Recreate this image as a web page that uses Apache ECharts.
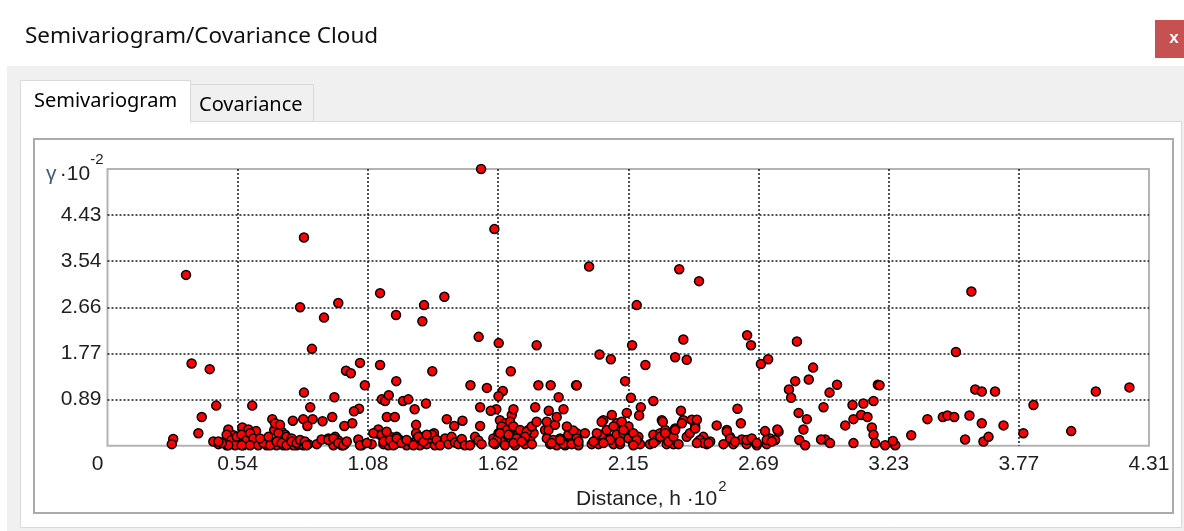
<!DOCTYPE html>
<html>
<head>
<meta charset="utf-8">
<script src="https://cdn.jsdelivr.net/npm/echarts@6/dist/echarts.min.js"></script>
<style>
  html, body { margin: 0; padding: 0; background: #ffffff; }
  #chart { width: 1184px; height: 531px; }
</style>
</head>
<body>
<div id="chart"></div>
<script>
// Axis extents and tick labels (distance in units of 10^2, gamma in units of 10^-2)
const xMax = 4.31;
const yMax = 5.314;
const xTickLabels = ['0', '0.54', '1.08', '1.62', '2.15', '2.69', '3.23', '3.77', '4.31'];
const yTickLabels = ['', '0.89', '1.77', '2.66', '3.54', '4.43', ''];

// Semivariogram cloud: [distance h, gamma] pairs, scattered upper part
const cloudUpper = [
  [0.325,3.28],[0.348,1.58],[0.423,1.47],[0.45,0.77],[0.39,0.55],[0.376,0.24],[0.272,0.13],[0.266,0.03],
  [0.599,0.77],[0.682,0.51],[0.693,0.43],[0.813,4.00],[0.797,2.66],[0.896,2.46],[0.955,2.74],[1.128,2.93],
  [1.194,2.51],[1.310,2.70],[1.303,2.39],[1.394,2.86],[1.546,5.314],[1.601,4.16],[1.993,3.44],[2.190,2.70],
  [2.366,3.39],[2.448,3.16],[3.575,2.96],[0.846,1.86],[1.536,2.09],[1.619,1.97],[1.776,1.93],[0.987,1.44],
  [1.007,1.39],[1.045,1.59],[1.128,1.55],[1.344,1.43],[1.669,1.43],[1.065,1.16],[1.195,1.24],[1.502,1.16],
  [1.570,1.11],[1.636,1.05],[1.618,0.95],[1.783,1.16],[1.834,1.16],[1.939,1.16],[0.813,1.02],[0.939,0.93],
  [1.135,0.89],[1.149,0.86],[1.164,0.97],[1.223,0.86],[1.245,0.89],[1.318,0.81],[1.271,0.70],[1.867,0.93],
  [0.839,0.74],[1.041,0.71],[1.020,0.66],[1.542,0.74],[1.609,0.70],[1.586,0.67],[1.680,0.70],[1.770,0.74],
  [1.887,0.70],[1.826,0.67],[1.859,0.55],[0.810,0.51],[0.849,0.51],[0.767,0.48],[0.890,0.47],[0.930,0.55],
  [0.827,0.38],[0.980,0.38],[1.013,0.43],[1.156,0.55],[1.189,0.55],[1.404,0.51],[1.469,0.48],[1.435,0.38],
  [1.277,0.40],[1.542,0.38],[0.714,0.40],[2.171,1.93],[2.383,2.04],[2.036,1.75],[2.083,1.66],[2.349,1.70],
  [2.397,1.65],[2.226,1.55],[2.647,2.12],[2.663,1.93],[2.704,1.57],[2.734,1.66],[2.853,2.00],[2.920,1.50],
  [2.902,1.27],[2.846,1.24],[2.820,1.08],[2.829,0.92],[3.019,1.17],[2.988,1.02],[3.188,1.17],[1.942,1.16],
  [2.142,1.24],[2.166,0.92],[2.259,0.86],[2.207,0.74],[2.200,0.58],[2.149,0.63],[2.087,0.59],[2.373,0.67],
  [2.607,0.71],[2.621,0.43],[2.521,0.39],[2.860,0.63],[2.894,0.51],[2.880,0.31],[2.963,0.74],[3.083,0.78],
  [3.128,0.81],[3.170,0.86],[3.053,0.39],[3.087,0.51],[3.119,0.59],[3.145,0.55],[3.163,0.35],[3.170,0.21],
  [3.177,0.05],[3.087,0.05],[2.970,0.12],[2.990,0.05],[2.953,0.12],[2.863,0.11],[2.887,0.01],[2.772,0.31],
  [2.721,0.28],[3.511,1.80],[3.195,1.16],[3.591,1.08],[3.618,1.04],[3.673,1.04],[4.090,1.04],[4.229,1.12],
  [3.832,0.78],[3.393,0.51],[3.457,0.55],[3.476,0.58],[3.504,0.55],[3.567,0.58],[3.618,0.43],[3.708,0.39],
  [3.790,0.24],[3.988,0.28],[3.549,0.12],[3.625,0.08],[3.646,0.17],[3.326,0.20],[3.252,0.05],[3.260,0.01],
  [3.218,0.01],[3.250,0.09]
];

// Semivariogram cloud: dense band of small gamma values
const cloudBand = [
  [0.500,0.31],[0.558,0.35],[0.583,0.31],[0.615,0.28],[0.714,0.28],[0.728,0.20],[0.438,0.08],[0.459,0.03],
  [0.493,0.12],[0.521,0.20],[0.535,0.03],[0.562,0.01],[0.583,0.12],[0.624,0.12],[0.659,0.01],[0.700,0.01],
  [0.728,0.01],[0.755,0.07],[0.783,0.01],[0.493,0.01],[0.721,0.27],[0.735,0.21],[0.748,0.11],[0.776,0.08],
  [0.790,0.03],[0.810,0.01],[0.831,0.03],[0.769,0.01],[0.866,0.03],[0.886,0.12],[0.914,0.14],[0.942,0.17],
  [0.955,0.10],[0.969,0.01],[0.983,0.03],[0.935,0.01],[1.038,0.12],[1.052,0.01],[1.093,0.03],[1.107,0.24],
  [1.121,0.31],[1.128,0.21],[1.142,0.03],[1.148,0.12],[1.162,0.01],[1.176,0.16],[1.190,0.03],[1.197,0.17],
  [1.210,0.11],[1.238,0.01],[1.259,0.05],[1.277,0.24],[1.280,0.11],[1.293,0.01],[1.307,0.17],[1.321,0.03],
  [1.335,0.14],[1.351,0.24],[1.355,0.01],[1.342,0.21],[1.397,0.14],[1.411,0.03],[1.424,0.17],[1.438,0.06],
  [1.452,0.03],[1.466,0.13],[1.479,0.01],[1.500,0.01],[1.521,0.17],[1.535,0.10],[1.548,0.03],[1.597,0.14],
  [1.604,0.03],[1.618,0.24],[1.624,0.49],[1.631,0.33],[1.638,0.14],[1.645,0.01],[1.652,0.21],[1.659,0.43],
  [1.666,0.30],[1.673,0.59],[1.680,0.11],[1.687,0.01],[1.700,0.27],[1.714,0.17],[1.728,0.03],[1.742,0.30],
  [1.749,0.14],[1.756,0.03],[1.763,0.24],[1.811,0.30],[1.818,0.14],[1.832,0.03],[1.845,0.11],[1.859,0.01],
  [1.873,0.14],[1.894,0.01],[1.908,0.17],[1.928,0.05],[1.942,0.24],[1.949,0.01],[1.887,0.03],[1.907,0.21],
  [1.928,0.29],[1.942,0.14],[1.921,0.03],[1.976,0.24],[2.004,0.03],[2.018,0.10],[2.032,0.03],[2.045,0.21],
  [2.052,0.49],[2.066,0.30],[2.080,0.14],[2.094,0.03],[2.107,0.43],[2.114,0.21],[2.121,0.03],[2.142,0.17],
  [2.156,0.37],[2.163,0.21],[2.183,0.03],[2.197,0.17],[2.204,0.03],[2.245,0.03],[2.259,0.21],[2.273,0.11],
  [2.287,0.24],[2.294,0.49],[2.308,0.30],[2.314,0.03],[2.328,0.17],[2.342,0.03],[2.349,0.33],[2.363,0.03],
  [2.383,0.49],[2.397,0.17],[2.418,0.50],[2.432,0.37],[2.439,0.50],[2.446,0.08],[2.466,0.17],[2.480,0.03],
  [2.494,0.08],[2.549,0.03],[2.563,0.30],[2.576,0.17],[2.590,0.03],[2.625,0.12],[2.645,0.03],[2.666,0.11],
  [2.687,0.01],[2.728,0.03],[2.742,0.14],[2.763,0.11],
  [0.493,0.21],[0.514,0.11],[0.535,0.17],[0.555,0.21],[0.576,0.11],[0.590,0.24],[0.604,0.14],[0.528,0.01],
  [0.555,0.01],[0.590,0.01],[0.624,0.01],[0.500,0.01],[0.473,0.05],[0.459,0.08],[0.690,0.30],[0.707,0.24],
  [0.741,0.17],[0.762,0.14],[0.645,0.05],[0.673,0.01],[0.700,0.08],[0.721,0.05],[0.741,0.01],[0.762,0.08],
  [0.783,0.05],[0.797,0.11],[0.817,0.08],[0.824,0.01],[0.666,0.17],[0.631,0.14],[0.914,0.11],[0.935,0.14],
  [0.955,0.05],[0.976,0.01],[0.990,0.08],[1.045,0.01],[1.073,0.05],[1.100,0.24],[1.135,0.21],[1.155,0.27],
  [1.142,0.08],[1.169,0.11],[1.183,0.01],[1.197,0.14],[1.217,0.05],[1.238,0.11],[1.266,0.01],[1.286,0.17],
  [1.307,0.08],[1.321,0.21],[1.362,0.11],[1.376,0.01],[1.645,0.43],[1.666,0.46],[1.631,0.37],[1.652,0.30],
  [1.680,0.37],[1.707,0.30],[1.735,0.27],[1.756,0.37],[1.728,0.17],[1.693,0.14],[1.680,0.05],[1.714,0.08],
  [1.611,0.11],[1.597,0.05],[1.659,0.21],[1.624,0.24],[1.818,0.46],[1.776,0.46],[1.825,0.30],[1.852,0.40],
  [1.838,0.05],[1.873,0.11],[1.949,0.08],[1.901,0.37],[2.045,0.46],[2.128,0.46],[2.025,0.24],[2.094,0.37],
  [2.107,0.21],[2.135,0.24],[2.156,0.14],[2.176,0.24],[2.080,0.11],[2.052,0.05],[2.011,0.08],[2.121,0.08],
  [2.176,0.05],[2.135,0.30],[2.190,0.11],[2.176,0.01],[2.259,0.05],[2.287,0.17],[2.308,0.24],[2.321,0.08],
  [2.342,0.17],[2.349,0.30],[2.377,0.43],[2.298,0.46],[2.410,0.24],[2.432,0.33],[2.452,0.11],[2.466,0.05],
  [2.487,0.05],[2.439,0.05],[2.563,0.27],[2.577,0.14],[2.597,0.08],[2.645,0.11],[2.666,0.14],[2.687,0.05],
  [2.728,0.11],[2.749,0.08],[2.777,0.27]
];

const xStep = xMax / 8;
const yStep = yMax / 6;
const labelFont = 'Liberation Sans, Arial, sans-serif';
const uiFont = 'Noto Sans, Open Sans, sans-serif';
const textColor = '#1f1f1f';
const gridDots = { color: '#1a1a1a', width: 1.5, type: [2, 2] };

const chart = echarts.init(document.getElementById('chart'), null, { renderer: 'canvas' });

const option = {
  backgroundColor: '#ffffff',
  animation: false,
  graphic: [
    // dialog body
    { type: 'rect', z: -20, shape: { x: 7, y: 66, width: 1177, height: 465 }, style: { fill: '#f0f0f0' } },
    // tab page
    { type: 'rect', z: -19, shape: { x: 20.5, y: 121.5, width: 1161, height: 406 }, style: { fill: '#ffffff', stroke: '#d9d9d9', lineWidth: 1 } },
    // active tab
    { type: 'rect', z: -18, shape: { x: 20.5, y: 80.5, width: 170, height: 42 }, style: { fill: '#ffffff', stroke: '#d9d9d9', lineWidth: 1 } },
    { type: 'rect', z: -17, shape: { x: 21, y: 119, width: 169, height: 5 }, style: { fill: '#ffffff' } },
    // inactive tab
    { type: 'rect', z: -18, shape: { x: 190.5, y: 84.5, width: 123, height: 37 }, style: { fill: '#f0f0f0', stroke: '#d9d9d9', lineWidth: 1 } },
    { type: 'text', z: -16, style: { x: 34, y: 101, text: 'Semivariogram', font: '20px ' + uiFont, fill: '#000000', textVerticalAlign: 'middle' } },
    { type: 'text', z: -16, style: { x: 199, y: 105, text: 'Covariance', font: '20px ' + uiFont, fill: '#000000', textVerticalAlign: 'middle' } },
    // group frame
    { type: 'rect', z: -15, shape: { x: 34, y: 139, width: 1139, height: 374 }, style: { fill: 'none', stroke: '#ababab', lineWidth: 2 } },
    // window title
    { type: 'text', z: -16, style: { x: 25, y: 37, text: 'Semivariogram/Covariance Cloud', font: '22.5px ' + uiFont, fill: '#111111', textVerticalAlign: 'middle' } },
    // close button
    { type: 'rect', z: -16, shape: { x: 1155, y: 20, width: 29, height: 38 }, style: { fill: '#c75050' } },
    { type: 'text', z: -15, style: { x: 1174, y: 38, text: 'x', font: 'bold 17px ' + labelFont, fill: '#ffffff', textAlign: 'center', textVerticalAlign: 'middle' } }
  ],
  grid: {
    left: 107.5, top: 169, right: 35, bottom: 85.3,
    show: true, backgroundColor: '#ffffff', borderColor: '#b3b3b3', borderWidth: 2
  },
  xAxis: {
    type: 'value', min: 0, max: xMax, interval: xStep,
    axisLine: { show: false }, axisTick: { show: false },
    splitLine: { show: true, showMinLine: false, showMaxLine: false, lineStyle: gridDots },
    axisLabel: {
      margin: 8, fontSize: 21, fontFamily: labelFont, color: textColor,
      showMinLabel: true, showMaxLabel: true, hideOverlap: false,
      formatter: function (v) {
        const i = Math.round(v / xStep);
        return i === 0 ? '{o|' + xTickLabels[0] + '}' : xTickLabels[i];
      },
      rich: { o: { fontSize: 21, fontFamily: labelFont, color: textColor, padding: [0, 20, 0, 0] } }
    },
    name: '{t|Distance, h ·10}{s|2}',
    nameLocation: 'middle', nameGap: 52,
    nameTextStyle: {
      align: 'center', verticalAlign: 'middle', padding: [0, 0, 0, 46],
      rich: {
        t: { fontSize: 21, fontFamily: labelFont, color: textColor },
        s: { fontSize: 15, fontFamily: labelFont, color: textColor, padding: [0, 0, 24, 1] }
      }
    }
  },
  yAxis: {
    type: 'value', min: 0, max: yMax, interval: yStep,
    axisLine: { show: false }, axisTick: { show: false },
    splitLine: { show: true, showMinLine: false, showMaxLine: false, lineStyle: gridDots },
    axisLabel: {
      margin: 6, fontSize: 21, fontFamily: labelFont, color: textColor,
      formatter: function (v) { return yTickLabels[Math.round(v / yStep)]; }
    },
    name: '{g|γ} {t|·10}{s|-2}',
    nameLocation: 'end', nameGap: -5,
    nameTextStyle: {
      align: 'right', verticalAlign: 'middle', padding: [0, 4, 0, 0],
      rich: {
        g: { fontSize: 21, fontFamily: labelFont, color: '#4a5878' },
        t: { fontSize: 21, fontFamily: labelFont, color: textColor },
        s: { fontSize: 15, fontFamily: labelFont, color: textColor, padding: [0, 0, 28, 0] }
      }
    }
  },
  series: [
    {
      name: 'cloud', type: 'scatter', clip: false,
      symbol: 'circle', symbolSize: 9,
      itemStyle: { color: '#ff0000', borderColor: '#000000', borderWidth: 1.5, opacity: 1 },
      data: cloudBand.concat(cloudUpper)
    }
  ]
};

chart.setOption(option);
</script>
</body>
</html>
